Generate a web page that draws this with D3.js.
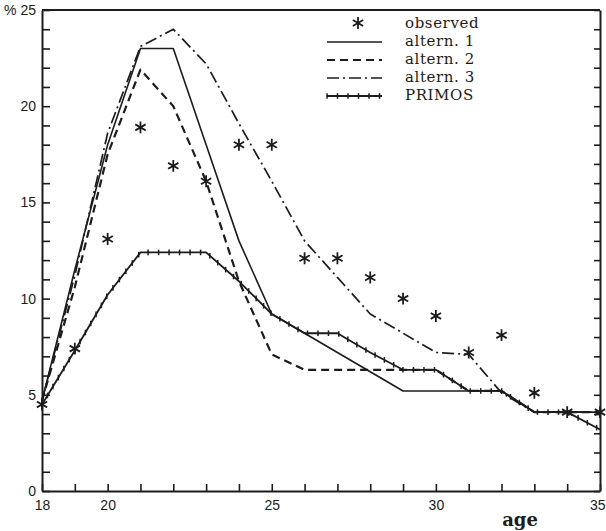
<!DOCTYPE html>
<html><head><meta charset="utf-8">
<script src="https://cdn.jsdelivr.net/npm/d3@7"></script>
<style>body{margin:0;background:#fff}svg{display:block}</style>
</head><body>
<svg id="c" width="606" height="531"></svg>
<script>
// ---- data ----
const ages     = [18,19,20,21,22,23,24,25,26,27,28,29,30,31,32,33,34,35];
const observed = [4.5,7.4,13.1,18.9,16.9,16.1,18.0,18.0,12.1,12.1,11.1,10.0,9.1,7.2,8.1,5.1,4.1,4.1];
const altern1  = [4.7,11.5,18.0,23.0,23.0,18.0,13.0,9.2,8.2,7.2,6.2,5.2,5.2,5.2,5.2,4.1,4.1,4.1];
const altern2  = [4.7,10.6,17.5,21.9,20.0,16.1,10.9,7.1,6.3,6.3,6.3,6.3,6.3,5.2,5.2,4.1,4.1,4.1];
const altern3  = [4.7,11.2,18.6,23.1,24.0,22.2,19.1,16.1,13.0,11.1,9.2,8.2,7.2,7.1,5.1,4.1,4.1,4.1];
const primos   = [4.5,7.3,10.2,12.4,12.4,12.4,10.9,9.2,8.2,8.2,7.2,6.3,6.3,5.2,5.2,4.1,4.1,3.2];
const xLabels  = [18,20,25,30,35];
const yLabels  = [0,5,10,15,20,25];
const legendItems = ["observed","altern. 1","altern. 2","altern. 3","PRIMOS"];

const svg = d3.select("#c");
const ink = "#1c1c1c";
const x = d3.scaleLinear().domain([18,35]).range([42,600]);
const y = d3.scaleLinear().domain([0,25]).range([491,10]);

// frame
svg.append("line").attr("x1",x(18)).attr("x2",x(35)).attr("y1",y(25)).attr("y2",y(25))
  .attr("stroke",ink).attr("stroke-width",1.8);

const tickFont = "'Liberation Sans', Arial, sans-serif";
// left axis
const gl = svg.append("g").attr("transform",`translate(${x(18)},0)`)
  .call(d3.axisLeft(y).ticks(25).tickSizeInner(-8).tickSizeOuter(0).tickPadding(6)
    .tickFormat(d => yLabels.includes(d) ? (d===25 ? "% 25" : d) : ""));
// right axis
const gr = svg.append("g").attr("transform",`translate(${x(35)},0)`)
  .call(d3.axisLeft(y).ticks(25).tickSizeInner(6).tickSizeOuter(0).tickFormat(""));
// bottom axis
const gb = svg.append("g").attr("transform",`translate(0,${y(0)})`)
  .call(d3.axisBottom(x).tickValues(ages).tickSizeInner(-7).tickSizeOuter(0).tickPadding(9)
    .tickFormat(d => xLabels.includes(d) ? d : ""));
[gl,gr,gb].forEach(g=>{
  g.select(".domain").attr("stroke",ink).attr("stroke-width",2);
  g.selectAll(".tick line").attr("stroke",ink).attr("stroke-width",1.6);
  g.selectAll("text").attr("font-family",tickFont).attr("font-size",14).attr("fill",ink);
});
// keep the last x label inside the picture
gb.selectAll(".tick").filter(d => d===35).select("text")
  .attr("text-anchor","end").attr("x",5);

svg.append("text").attr("x",520).attr("y",526).attr("text-anchor","middle")
  .attr("font-family","'DejaVu Serif', serif").attr("font-weight","bold")
  .attr("font-size",18).attr("fill",ink).text("age");

// lines
const line = d3.line().x((d,i)=>x(ages[i])).y(d=>y(d));
const styles = [
  {data:altern1, dash:null, w:1.6},
  {data:altern2, dash:"8,5", w:2.2},
  {data:altern3, dash:"12,4,2,4", w:1.7},
  {data:primos, dash:null, w:1.8}
];
const paths = styles.map(s => svg.append("path").datum(s.data).attr("d",line)
  .attr("fill","none").attr("stroke",ink).attr("stroke-width",s.w)
  .attr("stroke-dasharray",s.dash).attr("stroke-linejoin","round"));

function markers(pathNode){
  const L = pathNode.getTotalLength();
  for(let l=0;l<=L;l+=10.5){
    const p = pathNode.getPointAtLength(l);
    svg.append("line").attr("x1",p.x).attr("x2",p.x).attr("y1",p.y-2.8).attr("y2",p.y+2.8)
      .attr("stroke",ink).attr("stroke-width",1.5);
  }
}
markers(paths[3].node());

// observed asterisks
const star = d3.symbol().type(d3.symbolAsterisk).size(100);
svg.append("g").selectAll("path").data(observed).join("path")
  .attr("transform",(d,i)=>`translate(${x(ages[i])},${y(d)})`)
  .attr("d",star).attr("fill","none").attr("stroke",ink).attr("stroke-width",1.8);

// legend
const lg = svg.append("g");
const ly = [23,42,60,78,96];
const ty = [28,46,64,82,100];
lg.selectAll("text").data(legendItems).join("text")
  .attr("x",405).attr("y",(d,i)=>ty[i])
  .attr("font-family","'DejaVu Serif', serif").attr("font-size",15)
  .attr("letter-spacing",0.6).attr("fill",ink)
  .text(d=>d);
lg.append("path").attr("transform",`translate(358,${ly[0]})`).attr("d",star)
  .attr("fill","none").attr("stroke",ink).attr("stroke-width",1.8);
styles.forEach((s,k)=>{
  const p = lg.append("path").attr("d",`M327,${ly[k+1]}H382`).attr("fill","none")
    .attr("stroke",ink).attr("stroke-width",s.w).attr("stroke-dasharray",s.dash);
  if(k===3) markers(p.node());
});
</script>
</body></html>
